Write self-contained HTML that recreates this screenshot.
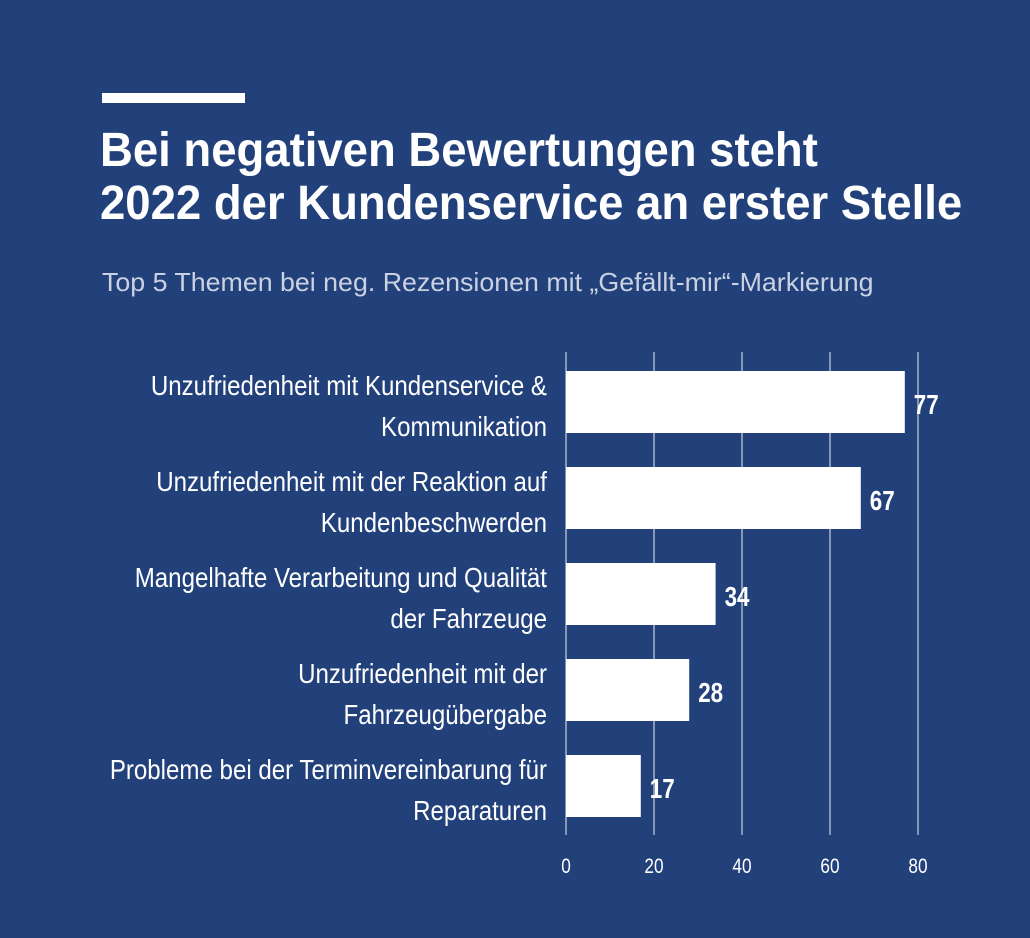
<!DOCTYPE html>
<html><head><meta charset="utf-8"><style>
body{margin:0;width:1030px;height:938px;background:#22417a;overflow:hidden}
svg{display:block}
.lbl{font-family:"Liberation Sans",sans-serif;font-size:28px;fill:#fff}
</style></head><body>
<svg width="1030" height="938">
<rect x="102" y="93" width="143" height="10" fill="#fff"/>
<text transform="translate(100,166) scale(1.0,1.05)" font-family="Liberation Sans,sans-serif" font-weight="bold" font-size="45.5" fill="#fff">Bei negativen Bewertungen steht</text>
<text transform="translate(100,219) scale(1.0,1.05)" font-family="Liberation Sans,sans-serif" font-weight="bold" font-size="45.5" fill="#fff">2022 der Kundenservice an erster Stelle</text>
<text transform="translate(102,291) scale(1.03,1)" font-family="Liberation Sans,sans-serif" font-size="26" fill="#c9d1e2">Top 5 Themen bei neg. Rezensionen mit „Gefällt-mir“-Markierung</text>
<g id="plot"></g>
</svg>
<script>
const categories=[["Unzufriedenheit mit Kundenservice &","Kommunikation"],["Unzufriedenheit mit der Reaktion auf","Kundenbeschwerden"],["Mangelhafte Verarbeitung und Qualität","der Fahrzeuge"],["Unzufriedenheit mit der","Fahrzeugübergabe"],["Probleme bei der Terminvereinbarung für","Reparaturen"]];
const values=[77,67,34,28,17];
const ticks=[0,20,40,60,80];
const NS="http://www.w3.org/2000/svg";
const g=document.getElementById('plot');
const x=v=>566+v*4.4;
const y=i=>371+i*96;
function mk(t,a){const e=document.createElementNS(NS,t);for(const k in a)e.setAttribute(k,a[k]);g.appendChild(e);return e;}
ticks.forEach(t=>{
 const l=mk('line',{x1:x(t),x2:x(t),y1:352,y2:835,stroke:'#c8d0e0','stroke-width':1.2});
 
 
 const tx=mk('text',{transform:'translate('+x(t)+',873) scale(0.82,1)','text-anchor':'middle',class:'lbl',style:'font-size:21px'});
 tx.textContent=t;
 
 
});
values.forEach((v,i)=>{
 const r=mk('rect',{x:x(0),y:y(i),width:x(v)-x(0),height:62,fill:'#fff'});
 
 
 const t=mk('text',{transform:'translate('+(x(v)+9)+','+(y(i)+43)+') scale(0.8,1)',class:'lbl',style:'font-weight:bold;font-size:28px'});
 t.textContent=v;
 
 
 categories[i].forEach((s,j)=>{
  const c=mk('text',{transform:'translate(547,'+(y(i)+24+j*41)+') scale(0.86,1)','text-anchor':'end',class:'lbl'});
  c.textContent=s;
  
  
 });
});
</script>
</body></html>
